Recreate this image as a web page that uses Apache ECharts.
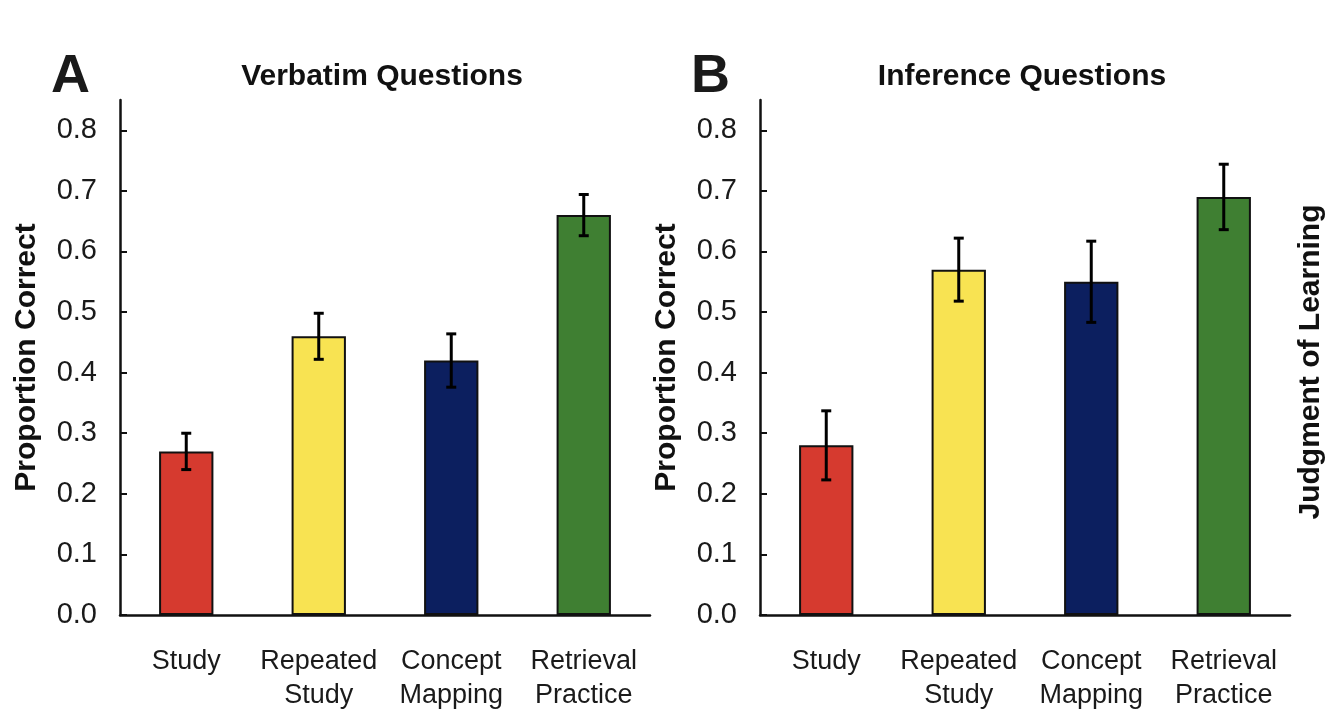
<!DOCTYPE html>
<html>
<head>
<meta charset="utf-8">
<script src="https://cdn.jsdelivr.net/npm/echarts@6/dist/echarts.min.js"></script>
<style>
html,body{margin:0;padding:0;background:#fff;}
#chart{width:1334px;height:724px;}
</style>
</head>
<body>
<div id="chart"></div>
<script>
const categories = ['Study', 'Repeated\nStudy', 'Concept\nMapping', 'Retrieval\nPractice'];
const barColors = ['#d63a2f', '#f8e352', '#0c1f5f', '#3f7f32'];
const verbatimMeans = [0.27, 0.46, 0.42, 0.66];
const verbatimErr = [0.030, 0.038, 0.044, 0.034];
const inferenceMeans = [0.28, 0.57, 0.55, 0.69];
const inferenceErr = [0.057, 0.052, 0.067, 0.054];
const yTicks = [0, 0.1, 0.2, 0.3, 0.4, 0.5, 0.6, 0.7, 0.8];
const panelLetters = ['A', 'B'];
const panelTitles = ['Verbatim Questions', 'Inference Questions'];
const yName = 'Proportion Correct';
const rightName = 'Judgment of Learning';

const FONT = '"Liberation Sans", Arial, Helvetica, sans-serif';
const chart = echarts.init(document.getElementById('chart'));

const grids = [
  {left: 120, top: 100, width: 530, height: 515},
  {left: 760, top: 100, width: 530, height: 515}
];

function makeX(i) {
  return {
    type: 'category', gridIndex: i, data: categories,
    axisLine: {lineStyle: {color: '#111', width: 2.5}},
    axisTick: {show: false},
    axisLabel: {interval: 0, color: '#1a1a1a', fontFamily: FONT, fontSize: 27, lineHeight: 34, margin: 30}
  };
}
function makeY(i) {
  return {
    type: 'value', gridIndex: i, min: 0, max: 0.85,
    name: yName, nameLocation: 'middle', nameGap: 78,
    nameTextStyle: {fontFamily: FONT, fontWeight: 'bold', fontSize: 30, color: '#111'},
    axisLine: {show: true, lineStyle: {color: '#111', width: 2.5}},
    axisTick: {show: true, inside: true, length: 7, customValues: yTicks, lineStyle: {color: '#111', width: 2}},
    axisLabel: {customValues: yTicks, formatter: v => v.toFixed(1), color: '#1a1a1a', fontFamily: FONT, fontSize: 29, margin: 23},
    splitLine: {show: false}
  };
}
function barSeries(i, means) {
  return {
    type: 'bar', xAxisIndex: i, yAxisIndex: i, barWidth: '41%',
    data: means.map((v, k) => ({value: v, itemStyle: {color: barColors[k]}})),
    itemStyle: {borderColor: '#111', borderWidth: 2}
  };
}
function errSeries(i, means, errs) {
  return {
    type: 'custom', xAxisIndex: i, yAxisIndex: i, z: 10,
    data: means.map((m, k) => [k, m - errs[k], m + errs[k]]),
    encode: {x: 0, y: [1, 2]},
    renderItem: function (params, api) {
      const x = api.value(0);
      const top = api.coord([x, api.value(2)]);
      const bot = api.coord([x, api.value(1)]);
      const hw = 5;
      const st = {stroke: '#000', lineWidth: 3};
      return {type: 'group', children: [
        {type: 'line', shape: {x1: top[0], y1: top[1], x2: bot[0], y2: bot[1]}, style: st},
        {type: 'line', shape: {x1: top[0] - hw, y1: top[1], x2: top[0] + hw, y2: top[1]}, style: st},
        {type: 'line', shape: {x1: bot[0] - hw, y1: bot[1], x2: bot[0] + hw, y2: bot[1]}, style: st}
      ]};
    }
  };
}

const graphics = [];
grids.forEach((g, i) => {
  graphics.push({type: 'text', left: i === 0 ? 51 : 691, top: 50,
    style: {text: panelLetters[i], font: 'bold 54px ' + FONT, fill: '#1a1a1a'}});
  graphics.push({type: 'text', x: g.left + g.width / 2 - 3, y: 77,
    style: {text: panelTitles[i], font: 'bold 30px ' + FONT, fill: '#111', align: 'center', verticalAlign: 'middle'}});
});
graphics.push({type: 'text', x: 1311, y: 362, rotation: Math.PI / 2,
  style: {text: rightName, font: 'bold 30px ' + FONT, fill: '#111', align: 'center', verticalAlign: 'middle'}});

chart.setOption({
  backgroundColor: '#fff',
  animation: false,
  grid: grids,
  xAxis: [makeX(0), makeX(1)],
  yAxis: [makeY(0), makeY(1)],
  series: [
    barSeries(0, verbatimMeans), errSeries(0, verbatimMeans, verbatimErr),
    barSeries(1, inferenceMeans), errSeries(1, inferenceMeans, inferenceErr)
  ],
  graphic: graphics
});
</script>
</body>
</html>
